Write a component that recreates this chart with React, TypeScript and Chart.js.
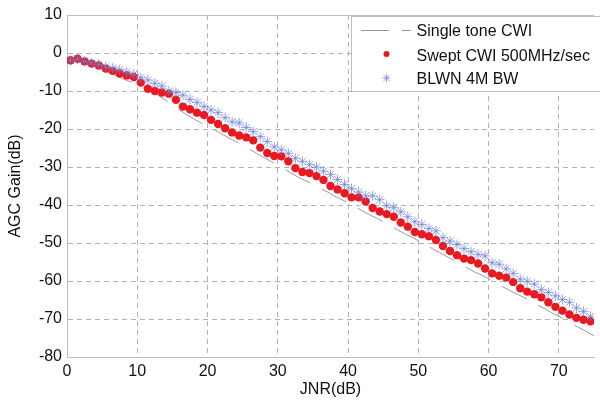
import React, { useEffect, useRef } from "react";
import { Chart, registerables } from "chart.js";

Chart.register(...registerables);

// ---------- data ----------
const singleToneX = [0, 1, 2, 3, 4, 5, 6, 7, 8, 9, 10, 11, 12, 13, 14, 15, 16, 17, 18, 19, 20, 21, 22, 23, 24, 25, 26, 27, 28, 29, 30, 31, 32, 33, 34, 35, 36, 37, 38, 39, 40, 41, 42, 43, 44, 45, 46, 47, 48, 49, 50, 51, 52, 53, 54, 55, 56, 57, 58, 59, 60, 61, 62, 63, 64, 65, 66, 67, 68, 69, 70, 71, 72, 73, 74, 75];
const singleToneY = [-1.6, -1.9, -2.4, -3.0, -3.7, -4.4, -5.2, -6.0, -6.8, -7.6, -8.4, -9.2, -10.1, -11.2, -12.4, -13.8, -15.0, -16.2, -17.3, -18.3, -19.2, -20.2, -21.3, -22.3, -23.3, -24.3, -25.3, -26.5, -27.5, -28.5, -29.6, -30.6, -31.7, -32.8, -33.6, -34.6, -35.5, -36.5, -37.6, -38.5, -39.4, -40.4, -41.5, -42.5, -43.4, -44.4, -45.5, -46.5, -47.5, -48.4, -49.4, -50.4, -51.5, -52.5, -53.5, -54.5, -55.5, -56.6, -57.6, -58.4, -59.4, -60.4, -61.5, -62.5, -63.4, -64.3, -65.3, -66.3, -67.3, -68.4, -69.3, -70.4, -71.4, -72.4, -73.4, -74.4];

const sweptX = [0.5, 1.5, 2.5, 3.5, 4.5, 5.5, 6.5, 7.5, 8.5, 9.5, 10.5, 11.5, 12.5, 13.5, 14.5, 15.5, 16.5, 17.5, 18.5, 19.5, 20.5, 21.5, 22.5, 23.5, 24.5, 25.5, 26.5, 27.5, 28.5, 29.5, 30.5, 31.5, 32.5, 33.5, 34.5, 35.5, 36.5, 37.5, 38.5, 39.5, 40.5, 41.5, 42.5, 43.5, 44.5, 45.5, 46.5, 47.5, 48.5, 49.5, 50.5, 51.5, 52.5, 53.5, 54.5, 55.5, 56.5, 57.5, 58.5, 59.5, 60.5, 61.5, 62.5, 63.5, 64.5, 65.5, 66.5, 67.5, 68.5, 69.5, 70.5, 71.5, 72.5, 73.5, 74.5];
const sweptY = [-1.9, -1.5, -2.2, -2.8, -3.3, -4.1, -4.7, -5.4, -5.9, -6.3, -7.8, -9.4, -10.0, -10.4, -10.7, -12.3, -14.1, -14.8, -15.7, -16.3, -17.6, -18.7, -19.8, -20.9, -21.7, -22.2, -23.0, -24.9, -26.3, -27.1, -27.2, -28.5, -30.3, -31.3, -31.6, -32.4, -33.4, -35.0, -35.9, -36.9, -38.0, -38.0, -39.1, -40.8, -41.7, -42.4, -43.1, -44.6, -45.7, -47.1, -47.7, -48.2, -49.2, -50.8, -52.1, -53.2, -54.1, -54.5, -55.4, -56.7, -58.0, -58.6, -59.1, -60.3, -61.9, -62.8, -63.5, -64.3, -65.6, -66.8, -67.8, -68.8, -69.7, -70.2, -70.6];

const blwnX = [0.5, 1.5, 2.5, 3.5, 4.5, 5.5, 6.5, 7.5, 8.5, 9.5, 10.5, 11.5, 12.5, 13.5, 14.5, 15.5, 16.5, 17.5, 18.5, 19.5, 20.5, 21.5, 22.5, 23.5, 24.5, 25.5, 26.5, 27.5, 28.5, 29.5, 30.5, 31.5, 32.5, 33.5, 34.5, 35.5, 36.5, 37.5, 38.5, 39.5, 40.5, 41.5, 42.5, 43.5, 44.5, 45.5, 46.5, 47.5, 48.5, 49.5, 50.5, 51.5, 52.5, 53.5, 54.5, 55.5, 56.5, 57.5, 58.5, 59.5, 60.5, 61.5, 62.5, 63.5, 64.5, 65.5, 66.5, 67.5, 68.5, 69.5, 70.5, 71.5, 72.5, 73.5, 74.5];
const blwnY = [-1.9, -1.6, -2.2, -2.6, -3.0, -3.6, -4.0, -4.4, -5.0, -5.6, -6.5, -7.1, -8.0, -8.7, -10.0, -10.4, -11.1, -12.2, -13.0, -14.1, -15.0, -15.7, -17.0, -18.1, -18.4, -19.6, -20.7, -22.0, -23.3, -24.7, -25.5, -26.4, -27.7, -28.5, -29.4, -30.0, -31.1, -32.0, -33.3, -34.6, -35.7, -36.6, -37.6, -37.6, -38.6, -40.2, -40.7, -41.8, -43.1, -44.4, -45.1, -46.2, -46.8, -48.6, -49.5, -50.4, -51.5, -52.3, -53.0, -53.4, -55.2, -55.6, -56.8, -58.0, -59.5, -60.1, -60.8, -62.3, -63.0, -63.9, -64.9, -65.6, -67.1, -68.0, -69.3];

const seriesLabels = ["Single tone CWI", "Swept CWI 500MHz/sec", "BLWN 4M BW"];
const xTickValues = [0, 10, 20, 30, 40, 50, 60, 70];
const yTickValues = [-80, -70, -60, -50, -40, -30, -20, -10, 0, 10];
const xTitle = "JNR(dB)";
const yTitle = "AGC Gain(dB)";

// ---------- styles ----------
const FONT = "'Liberation Sans', Arial, Helvetica, sans-serif";
const GRAY_LINE = "#9a9a9a";
const RED = "#ea1820";
const BLUE = "rgba(110,128,215,0.75)";
const AXIS = "#bdbdbd";
const GRID = "#b2b2b2";

function toPoints(xs: number[], ys: number[]) {
  return xs.map((x, i) => ({ x, y: ys[i] }));
}

function drawStar(ctx: CanvasRenderingContext2D, x: number, y: number, r: number) {
  ctx.beginPath();
  ctx.moveTo(x - r, y);
  ctx.lineTo(x + r, y);
  ctx.moveTo(x, y - r);
  ctx.lineTo(x, y + r);
  const d = r * Math.SQRT1_2;
  ctx.moveTo(x - d, y - d);
  ctx.lineTo(x + d, y + d);
  ctx.moveTo(x - d, y + d);
  ctx.lineTo(x + d, y - d);
  ctx.stroke();
}

const frameAndLegend = {
  id: "frameAndLegend",
  afterDraw(chart: any) {
    const { ctx, chartArea } = chart;
    ctx.save();
    // top frame line
    ctx.strokeStyle = AXIS;
    ctx.lineWidth = 1;
    ctx.setLineDash([]);
    ctx.beginPath();
    ctx.moveTo(chartArea.left, chartArea.top + 0.5);
    ctx.lineTo(chartArea.right, chartArea.top + 0.5);
    ctx.stroke();

    // legend box
    const bx = 351.5, by = 16.5, bw = 260, bh = 75;
    ctx.fillStyle = "#ffffff";
    ctx.fillRect(bx, by, bw, bh);
    ctx.strokeStyle = AXIS;
    ctx.strokeRect(bx, by, bw, bh);

    const rows = [32, 57, 80];
    const textX = 416.5;
    const ds = chart.data.datasets;
    // row 1 : dashed line
    ctx.strokeStyle = GRAY_LINE;
    ctx.lineWidth = 1;
    ctx.setLineDash(ds[0].borderDash);
    ctx.beginPath();
    ctx.moveTo(361, 30.5);
    ctx.lineTo(411, 30.5);
    ctx.stroke();
    ctx.setLineDash([]);
    // row 2 : red dot
    ctx.fillStyle = RED;
    ctx.beginPath();
    ctx.arc(386.5, 54, 3, 0, Math.PI * 2);
    ctx.fill();
    // row 3 : star
    ctx.strokeStyle = BLUE;
    ctx.lineWidth = 1;
    drawStar(ctx, 386.5, 78, 4);

    ctx.fillStyle = "#111";
    ctx.font = `16px ${FONT}`;
    ctx.textBaseline = "middle";
    ctx.textAlign = "left";
    for (let i = 0; i < 3; i++) {
      ctx.fillText(ds[i].label, textX, rows[i]);
    }
    ctx.restore();
  },
};

export default function App() {
  const ref = useRef<HTMLCanvasElement | null>(null);

  useEffect(() => {
    if (!ref.current) return;
    const chart = new Chart(ref.current, {
      type: "scatter",
      data: {
        datasets: [
          {
            label: seriesLabels[0],
            data: toPoints(singleToneX, singleToneY),
            showLine: true,
            borderColor: GRAY_LINE,
            borderWidth: 1,
            borderDash: [28, 13],
            pointRadius: 0,
            fill: false,
            order: 2,
          } as any,
          {
            label: seriesLabels[1],
            data: toPoints(sweptX, sweptY),
            showLine: false,
            pointRadius: 4.2,
            pointBackgroundColor: RED,
            pointBorderWidth: 0,
            pointBorderColor: RED,
            order: 1,
          },
          {
            label: seriesLabels[2],
            data: toPoints(blwnX, blwnY),
            showLine: false,
            pointStyle: "star",
            pointRadius: 5,
            pointBorderColor: BLUE,
            pointBackgroundColor: BLUE,
            pointBorderWidth: 1,
            order: 0,
          },
        ],
      },
      options: {
        responsive: false,
        animation: false,
        layout: { padding: { top: 15, right: 0, left: 0, bottom: 0 } },
        plugins: {
          legend: { display: false },
          tooltip: { enabled: false },
        },
        scales: {
          x: {
            type: "linear",
            min: 0,
            max: 75,
            afterBuildTicks: (scale: any) => {
              scale.ticks = xTickValues.map((v) => ({ value: v }));
            },
            afterFit: (scale: any) => {
              scale.height = 44;
            },
            ticks: {
              font: { size: 16, family: FONT },
              color: "#111",
              padding: 5,
              maxRotation: 0,
            },
            grid: { color: GRID, drawTicks: false, lineWidth: 1 },
            border: { display: true, color: AXIS, width: 1, dash: [5, 4] },
            title: {
              display: true,
              text: xTitle,
              font: { size: 16, family: FONT },
              color: "#111",
              padding: { top: 0, bottom: 2 },
            },
          },
          y: {
            type: "linear",
            min: -80,
            max: 10,
            afterBuildTicks: (scale: any) => {
              scale.ticks = yTickValues.map((v) => ({ value: v }));
            },
            afterFit: (scale: any) => {
              scale.width = 67;
            },
            ticks: {
              font: { size: 16, family: FONT },
              color: "#111",
              padding: 5,
            },
            grid: { color: GRID, drawTicks: false, lineWidth: 1 },
            border: { display: true, color: AXIS, width: 1, dash: [5, 4] },
            title: {
              display: true,
              text: yTitle,
              font: { size: 16, family: FONT },
              color: "#111",
              padding: { top: 6, bottom: 0 },
            },
          },
        },
      },
      plugins: [frameAndLegend],
    });
    return () => chart.destroy();
  }, []);

  return (
    <div style={{ position: "fixed", left: 0, top: 0, width: 600, height: 401, background: "#fff" }}>
      <canvas ref={ref} width={600} height={401} style={{ display: "block" }} />
    </div>
  );
}
